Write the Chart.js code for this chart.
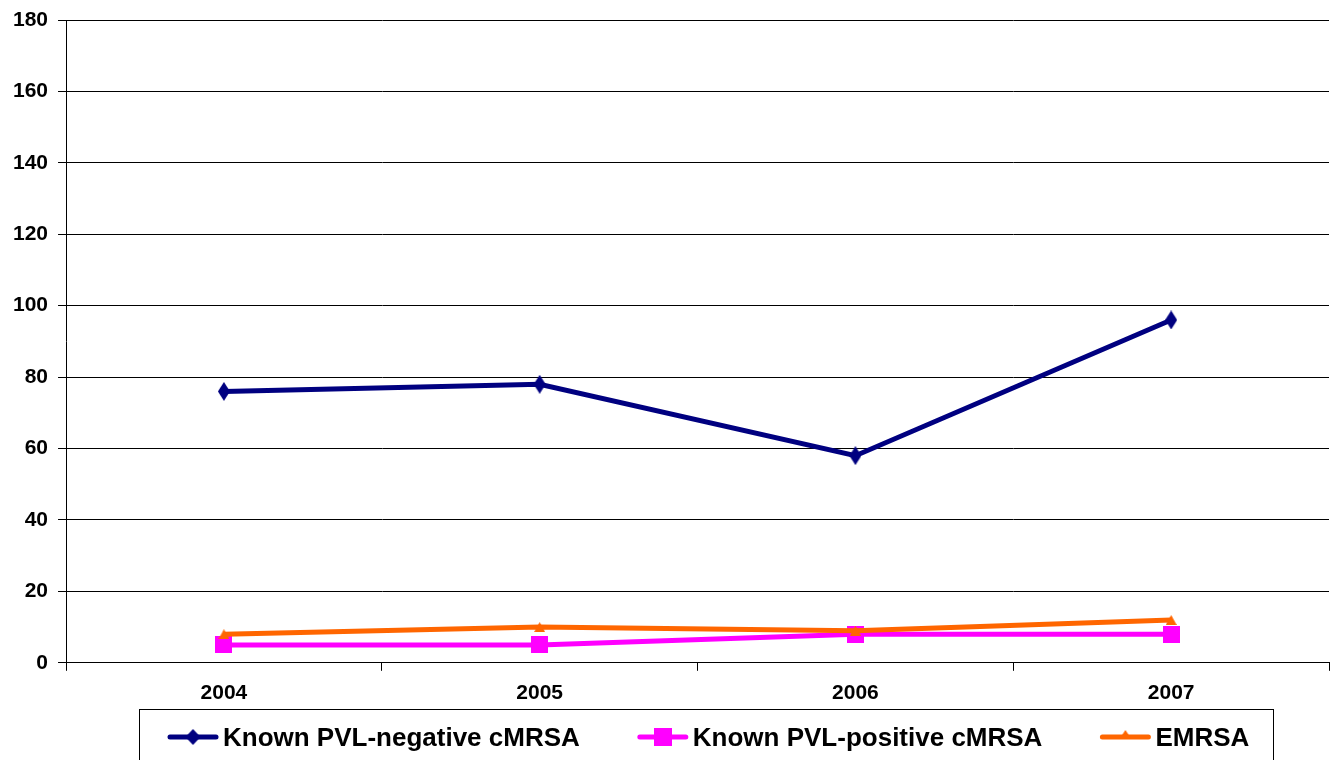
<!DOCTYPE html>
<html>
<head>
<meta charset="utf-8">
<script src="https://cdn.jsdelivr.net/npm/chart.js@4/dist/chart.umd.min.js"></script>
<style>
  html, body { margin: 0; padding: 0; background: #fff; overflow: hidden; }
  #wrap { width: 1331px; height: 760px; position: relative; }
  canvas { display: block; }
</style>
</head>
<body>
<div id="wrap"><canvas id="chart"></canvas></div>
<script>
// data
const years = ['2004', '2005', '2006', '2007'];
const pvlNegative = [76, 78, 58, 96];
const pvlPositive = [5, 5, 8, 8];
const emrsa = [8, 10, 9, 12];
const seriesNames = ['Known PVL-negative cMRSA', 'Known PVL-positive cMRSA', 'EMRSA'];
const yTicks = [0, 20, 40, 60, 80, 100, 120, 140, 160, 180];

const NAVY = '#000080';
const PINK = '#ff00ff';
const ORANGE = '#ff6600';
const FONT = '"Liberation Sans", Arial, sans-serif';

// marker images (the diamond is taller than wide like in the original)
function makeMarker(kind, w, h, color) {
    const c = document.createElement('canvas');
    c.width = w;
    c.height = h;
    const g = c.getContext('2d');
    g.fillStyle = color;
    g.beginPath();
    if (kind === 'diamond') {
        g.moveTo(w / 2, 0);
        g.lineTo(w, h / 2);
        g.lineTo(w / 2, h);
        g.lineTo(0, h / 2);
    } else if (kind === 'square') {
        g.rect(0, 0, w, h);
    } else {
        g.moveTo(w / 2, 0);
        g.lineTo(w, h);
        g.lineTo(0, h);
    }
    g.closePath();
    g.fill();
    return c;
}

const markers = [
    makeMarker('diamond', 12, 19, NAVY),
    makeMarker('square', 17, 17, PINK),
    makeMarker('triangle', 11, 10, ORANGE)
];
const legendMarkers = [
    makeMarker('diamond', 15, 16, NAVY),
    makeMarker('square', 18, 18, PINK),
    makeMarker('triangle', 12, 9, ORANGE)
];
const colors = [NAVY, PINK, ORANGE];

// legend drawn in a box below the plot
const boxLegend = {
    id: 'boxLegend',
    afterDraw(chart) {
        const ctx = chart.ctx;
        ctx.save();
        ctx.strokeStyle = '#000';
        ctx.lineWidth = 1;
        ctx.strokeRect(139.5, 709.5, 1134, 60);

        ctx.font = 'bold 26px ' + FONT;
        ctx.textBaseline = 'middle';
        ctx.textAlign = 'left';
        const lineLen = 50, textGap = 5, itemGap = 58;
        let x = 168;
        const y = 737;
        seriesNames.forEach((name, i) => {
            ctx.strokeStyle = colors[i];
            ctx.lineWidth = 5;
            ctx.lineCap = 'round';
            ctx.beginPath();
            ctx.moveTo(x + 2, y);
            ctx.lineTo(x + lineLen - 2, y);
            ctx.stroke();
            const m = legendMarkers[i];
            const my = i === 2 ? y - m.height + 2 : y - m.height / 2;
            ctx.drawImage(m, x + lineLen / 2 - m.width / 2, my);
            ctx.fillStyle = '#000';
            ctx.fillText(name, x + lineLen + textGap, y + 2);
            x += lineLen + textGap + ctx.measureText(name).width + itemGap;
        });
        ctx.restore();
    }
};

const ctx = document.getElementById('chart').getContext('2d');
new Chart(ctx, {
    type: 'line',
    data: {
        labels: years,
        datasets: [
            {
                label: seriesNames[0],
                data: pvlNegative,
                borderColor: NAVY,
                backgroundColor: NAVY,
                borderWidth: 5,
                pointStyle: markers[0],
                order: 2
            },
            {
                label: seriesNames[1],
                data: pvlPositive,
                borderColor: PINK,
                backgroundColor: PINK,
                borderWidth: 5,
                pointStyle: markers[1],
                order: 1
            },
            {
                label: seriesNames[2],
                data: emrsa,
                borderColor: ORANGE,
                backgroundColor: ORANGE,
                borderWidth: 5,
                pointStyle: markers[2],
                order: 0
            }
        ]
    },
    options: {
        responsive: true,
        maintainAspectRatio: false,
        animation: false,
        layout: {
            autoPadding: false,
            padding: { top: 20, right: 2, left: 3, bottom: 44 }
        },
        scales: {
            x: {
                offset: true,
                afterFit(scale) {
                    scale.paddingLeft = 0;
                    scale.paddingRight = 0;
                },
                grid: {
                    offset: true,
                    drawOnChartArea: false,
                    color: '#000',
                    tickLength: 8,
                    tickColor: '#000'
                },
                border: { color: '#000', width: 1 },
                ticks: {
                    color: '#000',
                    font: { family: FONT, size: 21, weight: 'bold' },
                    padding: 10
                }
            },
            y: {
                min: 0,
                max: 180,
                afterBuildTicks(axis) {
                    axis.ticks = yTicks.map(v => ({ value: v }));
                },
                afterFit(scale) {
                    scale.paddingTop = 0;
                    scale.paddingBottom = 0;
                },
                grid: {
                    color: '#000',
                    tickLength: 8,
                    tickColor: '#000'
                },
                border: { color: '#000', width: 1 },
                ticks: {
                    color: '#000',
                    font: { family: FONT, size: 21, weight: 'bold' },
                    padding: 10
                }
            }
        },
        plugins: {
            legend: { display: false },
            tooltip: { enabled: false }
        }
    },
    plugins: [boxLegend]
});
</script>
</body>
</html>
